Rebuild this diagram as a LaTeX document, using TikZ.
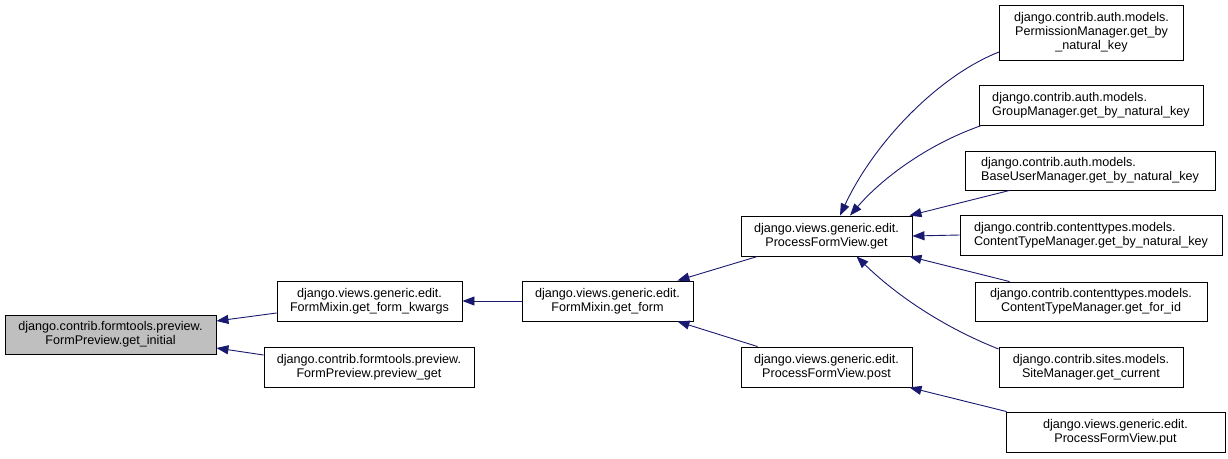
\documentclass[tikz,border=0pt]{standalone}
\usepackage{fontspec}
\setmainfont{Liberation Sans}
\usetikzlibrary{arrows.meta}
\definecolor{edgecol}{RGB}{25,25,112}
\definecolor{hlfill}{RGB}{191,191,191}
\begin{document}
\begin{tikzpicture}[x=1pt,y=-1pt,
  fbox/.style={draw=black, rectangle, inner sep=0pt, align=center, line width=0.9pt,
    font=\fontsize{12.6}{14}\selectfont},
  lbox/.style={fbox, align=left},
  arr/.style={draw=edgecol, line width=0.9pt, -{Triangle[length=12pt,width=9pt]}}]
\fill[white] (0,0) rectangle (1228,458);
\useasboundingbox (0,0) rectangle (1228,458);
% nodes
\node[fbox, fill=hlfill, minimum width=211pt, minimum height=39pt] (gi) at (110.5,334.5) {django.contrib.formtools.preview.\\FormPreview.get\_initial};
\node[fbox, minimum width=185pt, minimum height=40pt] (kw) at (369.5,301) {django.views.generic.edit.\\FormMixin.get\_form\_kwargs};
\node[fbox, minimum width=210pt, minimum height=40pt] (pg) at (369,367) {django.contrib.formtools.preview.\\FormPreview.preview\_get};
\node[fbox, minimum width=171pt, minimum height=40pt] (gf) at (607.5,301) {django.views.generic.edit.\\FormMixin.get\_form};
\node[fbox, minimum width=171pt, minimum height=40pt] (get) at (826.5,236) {django.views.generic.edit.\\ProcessFormView.get};
\node[fbox, minimum width=171pt, minimum height=40pt] (post) at (826.5,367) {django.views.generic.edit.\\ProcessFormView.post};
\node[fbox, minimum width=184pt, minimum height=55pt] (perm) at (1091.5,32.5) {django.contrib.auth.models.\\PermissionManager.get\_by\\\_natural\_key};
\node[lbox, minimum width=224pt, minimum height=40pt] (grp) at (1091,105) {django.contrib.auth.models.\\GroupManager.get\_by\_natural\_key};
\node[lbox, minimum width=250pt, minimum height=39pt] (bum) at (1090,170.5) {django.contrib.auth.models.\\BaseUserManager.get\_by\_natural\_key};
\node[lbox, minimum width=262pt, minimum height=40pt] (ctm) at (1091,235) {django.contrib.contenttypes.models.\\ContentTypeManager.get\_by\_natural\_key};
\node[fbox, minimum width=232pt, minimum height=39pt] (gfi) at (1091,301.5) {django.contrib.contenttypes.models.\\ContentTypeManager.get\_for\_id};
\node[fbox, minimum width=184pt, minimum height=40pt] (sm) at (1091,367) {django.contrib.sites.models.\\SiteManager.get\_current};
\node[fbox, minimum width=219pt, minimum height=40pt] (put) at (1115.5,432) {django.views.generic.edit.\\ProcessFormView.put};
% edges
\draw[arr] ([yshift=-12pt]kw.west) -- ([yshift=13.5pt]gi.east);
\draw[arr] ([yshift=12pt]pg.west) -- ([yshift=-13.5pt]gi.east);
\draw[arr] (gf.west) -- (kw.east);
\draw[arr] ([xshift=17pt]get.south west) -- ([xshift=-16pt]gf.north east);
\draw[arr] ([xshift=17pt]post.north west) -- ([xshift=-16pt]gf.south east);
\draw[arr] ([yshift=-19.5pt]perm.west) .. controls +(-59,23) and +(35,-75) .. ([xshift=13.5pt]get.north);
\draw[arr] ([xshift=3pt]grp.south west) .. controls +(-57,20) and +(30,-35) .. ([xshift=23.5pt]get.north);
\draw[arr] ([xshift=45pt]bum.south west) -- ([xshift=-3pt]get.north east);
\draw[arr] (ctm.west) -- (get.east);
\draw[arr] ([xshift=35pt]gfi.north west) -- ([xshift=-3pt]get.south east);
\draw[arr] ([yshift=18pt]sm.west) .. controls +(-58,-23) and +(38,37) .. ([xshift=30pt]get.south);
\draw[arr] ([xshift=1pt]put.north west) -- ([xshift=-3pt]post.south east);
\end{tikzpicture}
\end{document}
